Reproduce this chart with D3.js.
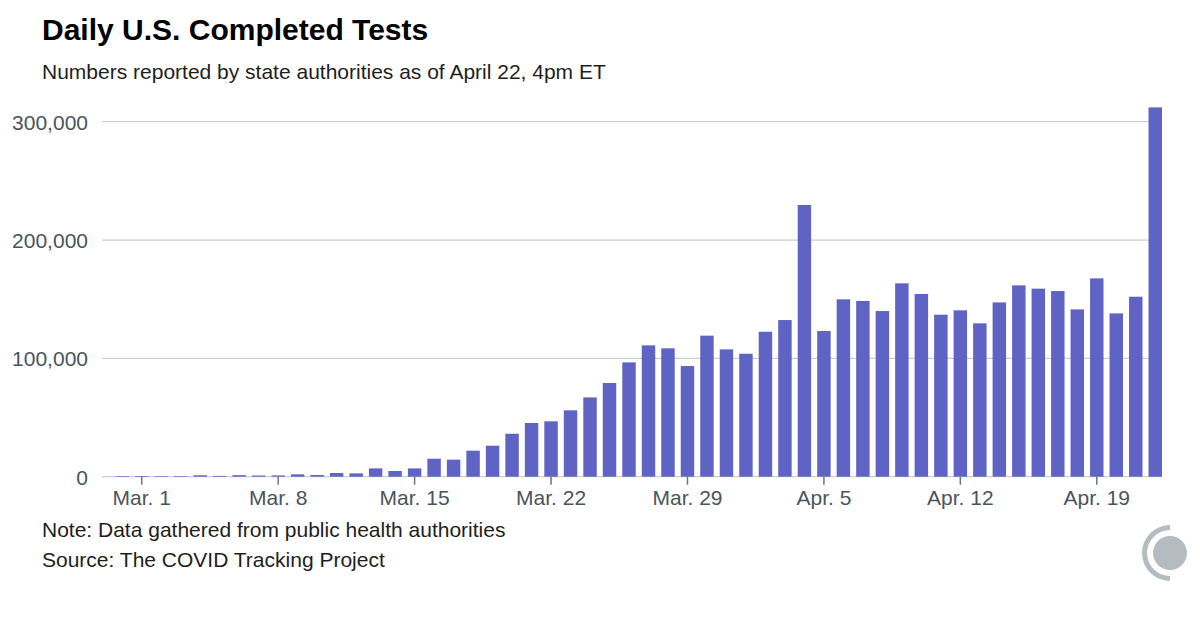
<!DOCTYPE html>
<html>
<head>
<meta charset="utf-8">
<script src="https://cdn.jsdelivr.net/npm/d3@7"></script>
<style>
  body { margin: 0; background: #fff; }
  svg { display: block; font-family: "Liberation Sans", Arial, sans-serif; }
  .axis path { display: none; }
</style>
</head>
<body>
<div id="chart"></div>
<script>
var width = 1200;
var height = 620;

/* Data */
var dates = [
  "2020-02-29",
  "2020-03-01", "2020-03-02", "2020-03-03", "2020-03-04", "2020-03-05", "2020-03-06", "2020-03-07",
  "2020-03-08", "2020-03-09", "2020-03-10", "2020-03-11", "2020-03-12", "2020-03-13", "2020-03-14",
  "2020-03-15", "2020-03-16", "2020-03-17", "2020-03-18", "2020-03-19", "2020-03-20", "2020-03-21",
  "2020-03-22", "2020-03-23", "2020-03-24", "2020-03-25", "2020-03-26", "2020-03-27", "2020-03-28",
  "2020-03-29", "2020-03-30", "2020-03-31", "2020-04-01", "2020-04-02", "2020-04-03", "2020-04-04",
  "2020-04-05", "2020-04-06", "2020-04-07", "2020-04-08", "2020-04-09", "2020-04-10", "2020-04-11",
  "2020-04-12", "2020-04-13", "2020-04-14", "2020-04-15", "2020-04-16", "2020-04-17", "2020-04-18",
  "2020-04-19", "2020-04-20", "2020-04-21", "2020-04-22"
];

var tests = [
  500,
  600, 500, 500, 1200, 700, 1300, 1000,
  1100, 2000, 1400, 3100, 2800, 7000, 4800,
  7000, 15200, 14400, 22000, 26200, 36300, 45400,
  46800, 56100, 67000, 79200, 96600, 111000, 108500,
  93500, 119200, 107600, 103900, 122500, 132400, 229600,
  123100, 149900, 148500, 140000, 163400, 154400, 136900,
  140600, 129600, 147300, 161700, 158900, 156900, 141400,
  167600, 138000, 152100, 312100
];

var tickDates = ["2020-03-01", "2020-03-08", "2020-03-15", "2020-03-22", "2020-03-29", "2020-04-05", "2020-04-12", "2020-04-19"];
var tickLabels = ["Mar. 1", "Mar. 8", "Mar. 15", "Mar. 22", "Mar. 29", "Apr. 5", "Apr. 12", "Apr. 19"];
var yTicks = [0, 100000, 200000, 300000];

var barColor = "#5f64c4";
var gridColor = "#c9cfd4";
var axisText = "#4a545d";

var svg = d3.select("#chart")
  .append("svg")
  .attr("width", width)
  .attr("height", height);

/* Scales */
var xScale = d3.scaleBand()
  .domain(dates)
  .range([112.5, 1165])
  .paddingInner(0.31)
  .paddingOuter(0.155);

var yScale = d3.scaleLinear()
  .domain([0, 300000])
  .range([476.7, 121.7]);

/* Grid */
svg.append("g")
  .selectAll("line")
  .data(yTicks)
  .enter()
  .append("line")
  .attr("x1", 102)
  .attr("x2", 1162)
  .attr("y1", d => yScale(d))
  .attr("y2", d => yScale(d))
  .attr("stroke", gridColor)
  .attr("stroke-width", 1.3);

/* Y axis */
var yAxis = d3.axisLeft(yScale)
  .tickValues(yTicks)
  .tickFormat(d3.format(","))
  .tickSize(0)
  .tickPadding(14);

svg.append("g")
  .attr("class", "y axis")
  .attr("transform", "translate(102,0)")
  .call(yAxis)
  .call(g => g.selectAll("text")
    .attr("fill", axisText)
    .style("font-size", "21px")
    .attr("dy", "0.35em"));

/* Bars */
svg.append("g")
  .selectAll("rect")
  .data(dates)
  .enter()
  .append("rect")
  .attr("x", d => xScale(d))
  .attr("width", xScale.bandwidth())
  .attr("y", (d, i) => yScale(tests[i]))
  .attr("height", (d, i) => yScale(0) - yScale(tests[i]))
  .attr("fill", barColor);

/* X axis */
var xAxis = d3.axisBottom(xScale)
  .tickValues(tickDates)
  .tickFormat((d, i) => tickLabels[i])
  .tickSize(8)
  .tickPadding(5);

svg.append("g")
  .attr("class", "x axis")
  .attr("transform", `translate(0, ${yScale(0)})`)
  .call(xAxis)
  .call(g => g.selectAll("line").attr("stroke", "#6c757c").attr("stroke-width", 1.5))
  .call(g => g.selectAll("text")
    .attr("fill", axisText)
    .style("font-size", "21px"));

/* Titles */
svg.append("text")
  .attr("x", 42)
  .attr("y", 40)
  .attr("fill", "#000")
  .style("font-size", "30px")
  .style("font-weight", "bold")
  .text("Daily U.S. Completed Tests");

svg.append("text")
  .attr("x", 42)
  .attr("y", 79)
  .attr("fill", "#1e1e1e")
  .style("font-size", "21px")
  .text("Numbers reported by state authorities as of April 22, 4pm ET");

/* Notes */
svg.append("text")
  .attr("x", 42)
  .attr("y", 537)
  .attr("fill", "#1e1e1e")
  .style("font-size", "21px")
  .text("Note: Data gathered from public health authorities");

svg.append("text")
  .attr("x", 42)
  .attr("y", 567)
  .attr("fill", "#1e1e1e")
  .style("font-size", "21px")
  .text("Source: The COVID Tracking Project");

/* Logo */
var logo = svg.append("g")
  .attr("transform", "translate(1170, 553)");

logo.append("path")
  .attr("d", d3.arc()
    .innerRadius(23)
    .outerRadius(28)
    .startAngle(Math.PI)
    .endAngle(2 * Math.PI)())
  .attr("fill", "#b4bcc1");

logo.append("circle")
  .attr("r", 17)
  .attr("fill", "#b4bcc1");
</script>
</body>
</html>
